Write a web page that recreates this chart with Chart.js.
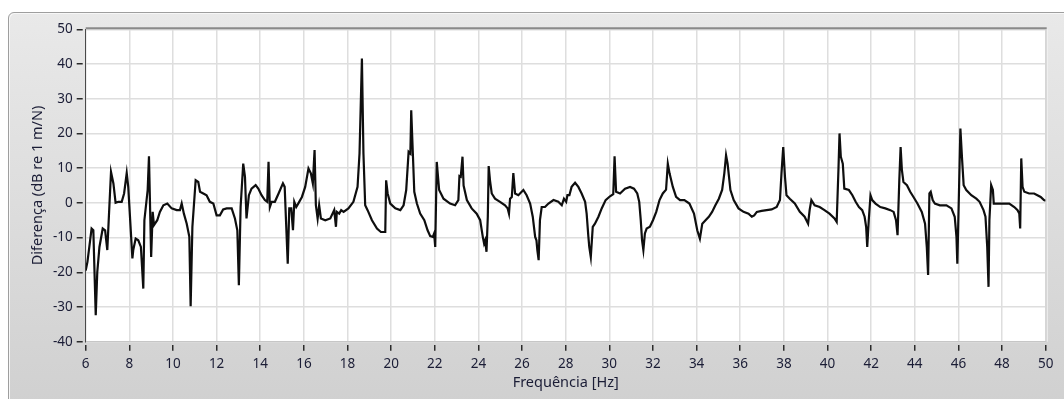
<!DOCTYPE html>
<html>
<head>
<meta charset="utf-8">
<script src="https://cdn.jsdelivr.net/npm/chart.js@4/dist/chart.umd.min.js"></script>
<style>
  html, body { margin: 0; padding: 0; background: #ffffff; }
  #wrap { position: relative; width: 1064px; height: 399px; overflow: hidden; }
  #panel {
    position: absolute; left: 8px; top: 12px; width: 1080px; height: 410px;
    border: 1px solid #9e9e9e; border-radius: 6px;
    background: linear-gradient(#e9e9e9, #cfcfcf);
    box-shadow: inset 1px 1px 0 #f7f7f7;
  }
  #chart { position: absolute; left: 0; top: 0; }
</style>
</head>
<body>
<div id="wrap">
  <div id="panel"></div>
  <canvas id="chart" width="1064" height="399"></canvas>
</div>
<script>
// Frequency axis (Hz)
const frequencies = [
  6.0, 6.08, 6.27, 6.35, 6.46, 6.53, 6.63, 6.78, 6.89, 6.99,
  7.16, 7.27, 7.37, 7.5, 7.65, 7.76, 7.88, 7.95, 8.14, 8.18,
  8.29, 8.41, 8.53, 8.64, 8.69, 8.84, 8.9, 9.0, 9.07, 9.13,
  9.28, 9.4, 9.56, 9.74, 9.94, 10.17, 10.32, 10.4, 10.5, 10.63,
  10.75, 10.81, 10.89, 11.04, 11.16, 11.24, 11.39, 11.54, 11.69, 11.85,
  12.0, 12.15, 12.3, 12.46, 12.69, 12.84, 12.95, 13.02, 13.1, 13.22,
  13.3, 13.37, 13.48, 13.6, 13.79, 13.91, 14.06, 14.21, 14.32, 14.38,
  14.44, 14.52, 14.67, 14.84, 15.04, 15.12, 15.18, 15.26, 15.33, 15.42,
  15.5, 15.56, 15.65, 15.76, 15.91, 16.06, 16.21, 16.32, 16.41, 16.49,
  16.55, 16.63, 16.7, 16.78, 16.98, 17.21, 17.39, 17.47, 17.51, 17.62,
  17.71, 17.82, 18.04, 18.27, 18.46, 18.55, 18.66, 18.73, 18.81, 18.92,
  19.12, 19.35, 19.53, 19.73, 19.77, 19.84, 19.96, 20.19, 20.42, 20.57,
  20.69, 20.8, 20.88, 20.92, 21.0, 21.06, 21.18, 21.33, 21.52, 21.67,
  21.79, 21.91, 21.97, 22.02, 22.09, 22.2, 22.4, 22.7, 22.93, 23.08,
  23.13, 23.19, 23.27, 23.32, 23.47, 23.69, 23.92, 24.08, 24.2, 24.26,
  24.31, 24.37, 24.43, 24.47, 24.53, 24.61, 24.76, 24.99, 25.22, 25.34,
  25.4, 25.45, 25.53, 25.6, 25.68, 25.83, 26.06, 26.21, 26.37, 26.49,
  26.6, 26.66, 26.7, 26.76, 26.82, 26.9, 27.05, 27.21, 27.44, 27.66,
  27.82, 27.92, 28.02, 28.08, 28.17, 28.27, 28.43, 28.58, 28.73, 28.89,
  28.96, 29.04, 29.08, 29.15, 29.24, 29.34, 29.5, 29.65, 29.83, 30.03,
  30.18, 30.24, 30.31, 30.49, 30.72, 30.95, 31.13, 31.28, 31.37, 31.44,
  31.5, 31.56, 31.63, 31.71, 31.86, 32.0, 32.15, 32.3, 32.45, 32.6,
  32.68, 32.76, 32.91, 33.06, 33.24, 33.44, 33.67, 33.88, 34.03, 34.15,
  34.26, 34.41, 34.56, 34.71, 34.86, 35.02, 35.17, 35.27, 35.35, 35.42,
  35.55, 35.7, 35.92, 36.15, 36.38, 36.53, 36.64, 36.76, 36.98, 37.21,
  37.44, 37.67, 37.82, 37.89, 37.97, 38.05, 38.12, 38.27, 38.5, 38.73,
  38.95, 39.11, 39.18, 39.26, 39.41, 39.64, 39.86, 40.09, 40.32, 40.42,
  40.5, 40.55, 40.61, 40.7, 40.77, 40.98, 41.14, 41.29, 41.44, 41.59,
  41.7, 41.77, 41.82, 41.89, 41.97, 42.05, 42.2, 42.42, 42.65, 42.88,
  43.03, 43.14, 43.21, 43.29, 43.35, 43.41, 43.48, 43.64, 43.79, 43.94,
  44.12, 44.32, 44.47, 44.55, 44.61, 44.67, 44.73, 44.82, 44.92, 45.15,
  45.45, 45.68, 45.83, 45.91, 45.95, 46.03, 46.09, 46.17, 46.24, 46.36,
  46.59, 46.82, 46.97, 47.15, 47.24, 47.32, 47.38, 47.42, 47.5, 47.58,
  47.62, 47.8, 48.03, 48.33, 48.56, 48.71, 48.79, 48.83, 48.88, 48.94,
  49.02, 49.24, 49.47, 49.62, 49.77, 49.92, 50.0
];

// Level difference (dB re 1 m/N) at each frequency
const differences = [
  -19.5, -17, -7.4, -7.9, -32.4, -20, -12.7, -7.4, -7.9, -13.6,
  8.9, 5.6, 0, 0.3, 0.3, 2.7, 8.6, 4.6, -16, -13.6,
  -10.3, -10.8, -12.7, -24.7, -5, 3.7, 13.4, -15.6, -2.6, -6.4,
  -5, -2.6, -0.7, -0.2, -1.6, -2.1, -2.1, -0.2, -3.1, -6,
  -9.8, -29.8, -6.9, 6.5, 6, 3.2, 2.7, 2.2, 0.3, -0.2,
  -3.6, -3.6, -1.9, -1.6, -1.6, -4.5, -7.9, -23.7, -1.2, 11.3,
  7.5, -4.5, 2.2, 4.1, 5.1, 4.1, 2.2, 0.8, 0.3, 11.8,
  -1.2, 0.3, 0.3, 2.7, 5.6, 4.6, -5, -17.5, -1.6, -1.6,
  -7.9, 0.3, -1.2, 0, 1.7, 4.6, 9.9, 8.5, 5.6, 15.2,
  -0.7, -4.5, -0.7, -4.5, -5, -4.5, -2.1, -6.9, -2.6, -3.1,
  -2.1, -2.6, -1.6, 0.3, 4.6, 14.2, 41.6, 14.2, -0.7, -2.1,
  -5, -7.4, -8.4, -8.4, 6.5, 2.7, -0.2, -1.6, -2.1, -0.7,
  3.7, 14.7, 14.2, 26.7, 13.3, 3.2, -0.2, -3.1, -5, -7.9,
  -9.6, -9.8, -8.8, -12.7, 11.8, 3.7, 1.2, -0.2, -0.7, 0.8,
  7.7, 7.5, 13.3, 5, 0.8, -1.6, -3.1, -5, -9.8, -11.7,
  -10.8, -14.1, -4, 10.6, 6.5, 2.7, 1.2, 0.3, -0.7, -1.6,
  -3.1, 1.2, 1.7, 8.6, 2.7, 2.2, 3.7, 2.2, -0.2, -4,
  -9.8, -10.8, -13.6, -16.5, -5, -1.2, -1.2, -0.2, 0.8, 0.3,
  -0.7, 1.2, 0.3, 2.2, 2.2, 4.6, 5.8, 4.6, 2.7, 0.3,
  -3.1, -9.8, -12.7, -15.6, -6.9, -6, -4, -1.6, 0.8, 1.9,
  2.5, 13.4, 3.2, 2.7, 4.1, 4.6, 4.1, 2.7, 0.3, -5,
  -10.8, -13.6, -8.8, -7.4, -6.9, -5, -2.6, 0.8, 2.7, 3.8,
  11.3, 8.5, 4.6, 1.7, 0.8, 0.8, -0.2, -3.1, -7.9, -10.3,
  -6, -5, -4, -2.6, -0.7, 1.2, 3.7, 8.5, 13.7, 11.3,
  3.7, 0.8, -1.6, -2.6, -3.1, -4, -3.6, -2.6, -2.3, -2.1,
  -1.9, -1.2, 0.8, 8.5, 16.1, 7.5, 2.2, 1.2, -0.2, -2.6,
  -4, -6, -2.1, 0.8, -0.7, -1.2, -2.1, -3.1, -4.5, -5.5,
  9.4, 20, 13.3, 11.3, 4.1, 3.7, 2.2, 0.3, -1.2, -2.1,
  -4, -6.9, -12.7, -5, 2.2, 0.8, -0.2, -1.2, -1.6, -2.1,
  -2.6, -5, -9.3, 6.5, 16.1, 9.4, 6, 5.1, 3.2, 1.7,
  -0.2, -2.6, -6, -12.7, -20.8, 2.7, 3.2, 0.8, -0.2, -0.7,
  -0.7, -1.6, -4, -9.8, -17.5, 4.6, 21.4, 12.3, 5.1, 3.7,
  2.2, 1.2, 0.3, -2.1, -4, -12.7, -24.2, -5, 5.1, 3.7,
  -0.2, -0.2, -0.2, -0.2, -1.2, -2.1, -3.1, -7.4, 12.8, 4.6,
  3.2, 2.7, 2.7, 2.2, 1.7, 0.8, 0.6
];

// Axis settings
const xRange = [6, 50];
const xStep = 2;
const yRange = [-40, 50];
const yStep = 10;
const xTitle = 'Frequência [Hz]';
const yTitle = 'Diferença (dB re 1 m/N)';

const points = frequencies.map((f, i) => ({ x: f, y: differences[i] }));

const textColor = '#1b1d36';
const fontFamily = "'Noto Sans', 'DejaVu Sans', sans-serif";

// White plot surface with a darker top edge, like a LabVIEW graph
const plotFrame = {
  id: 'plotFrame',
  beforeDraw(chart) {
    const { ctx, chartArea: a } = chart;
    ctx.save();
    ctx.fillStyle = '#ffffff';
    ctx.fillRect(a.left, a.top, a.right - a.left, a.bottom - a.top);
    ctx.restore();
  },
  afterDraw(chart) {
    const { ctx, chartArea: a } = chart;
    ctx.save();
    ctx.strokeStyle = '#8a8a8a';
    ctx.lineWidth = 2;
    ctx.beginPath();
    ctx.moveTo(a.left, a.top - 1);
    ctx.lineTo(a.right + 1, a.top - 1);
    ctx.stroke();
    ctx.strokeStyle = '#c4c4c4';
    ctx.lineWidth = 1;
    ctx.beginPath();
    ctx.moveTo(a.right + 0.5, a.top);
    ctx.lineTo(a.right + 0.5, a.bottom);
    ctx.stroke();
    ctx.strokeStyle = '#f4f4f4';
    ctx.beginPath();
    ctx.moveTo(a.right + 1.5, a.top);
    ctx.lineTo(a.right + 1.5, a.bottom);
    ctx.stroke();
    ctx.restore();
  }
};

new Chart(document.getElementById('chart'), {
  type: 'line',
  data: {
    datasets: [{
      data: points,
      borderColor: '#0e0e0e',
      borderWidth: 2.2,
      pointRadius: 0,
      tension: 0,
      fill: false
    }]
  },
  options: {
    responsive: false,
    animation: false,
    layout: { padding: { left: 0, right: 18.3, top: 29.3, bottom: 0 } },
    plugins: { legend: { display: false }, tooltip: { enabled: false } },
    scales: {
      x: {
        type: 'linear',
        min: xRange[0],
        max: xRange[1],
        afterFit(s) { s.height = 57.3; s.paddingLeft = 0; s.paddingRight = 0; },
        ticks: {
          stepSize: xStep,
          color: textColor,
          font: { family: fontFamily, size: 13.5 },
          padding: 5,
          maxRotation: 0,
          autoSkip: false
        },
        grid: {
          color: '#dedede',
          lineWidth: 1.5,
          tickColor: '#2a2a2a',
          tickWidth: 1.5,
          tickLength: 9,
          tickBorderDash: [0, 3, 6, 100]
        },
        border: { display: true, color: '#c6c6c6', width: 1 },
        title: {
          display: true,
          text: xTitle,
          color: textColor,
          font: { family: fontFamily, size: 14.5 },
          padding: { top: 0, bottom: 7 }
        }
      },
      y: {
        min: yRange[0],
        max: yRange[1],
        afterFit(s) { s.width = 85.7; s.paddingTop = 0; s.paddingBottom = 0; },
        ticks: {
          stepSize: yStep,
          color: textColor,
          font: { family: fontFamily, size: 13.5 },
          padding: 4
        },
        grid: {
          color: '#dedede',
          lineWidth: 1.5,
          tickColor: '#2a2a2a',
          tickWidth: 1.5,
          tickLength: 9,
          tickBorderDash: [6, 100]
        },
        border: { display: true, color: '#4a4a4a', width: 1 },
        title: {
          display: true,
          text: yTitle,
          color: textColor,
          font: { family: fontFamily, size: 14.5 },
          padding: { top: 29, bottom: 0 }
        }
      }
    }
  },
  plugins: [plotFrame]
});
</script>
</body>
</html>
